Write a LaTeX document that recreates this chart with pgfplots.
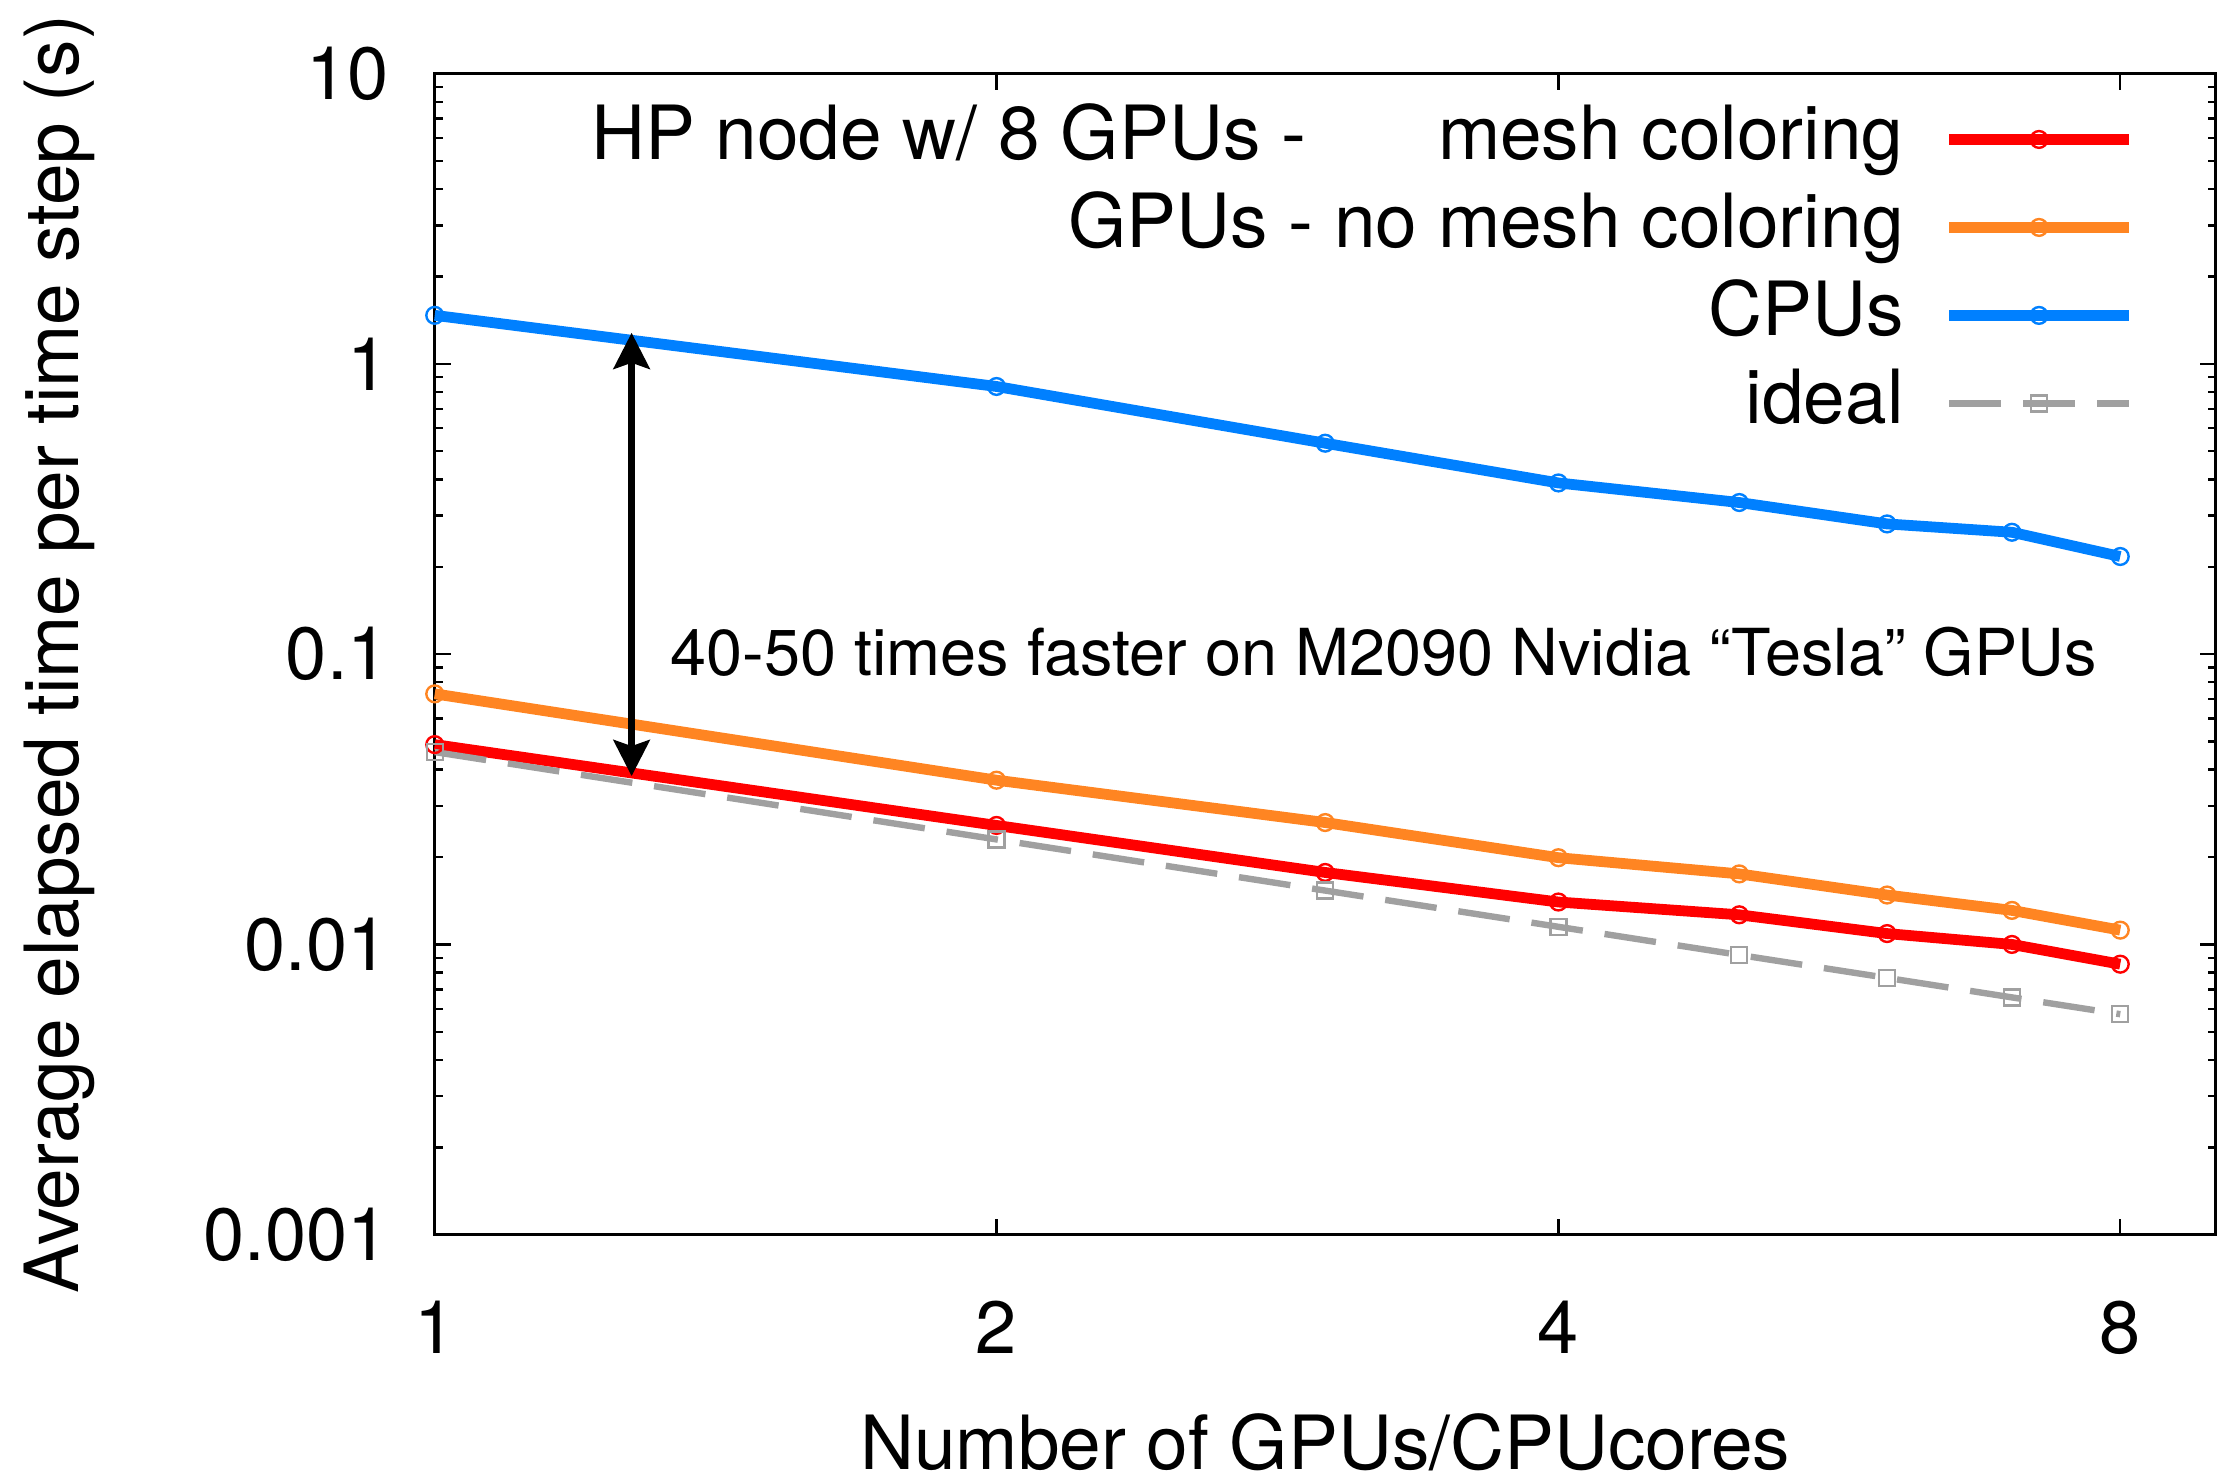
\documentclass[border=0pt]{standalone}
\usepackage{fontspec}
\setmainfont{TeX Gyre Heros}
\usepackage{pgfplots}
\usepackage{pgfplotstable}
\pgfplotsset{compat=1.18}
\usetikzlibrary{arrows.meta}

\definecolor{cred}{RGB}{255,0,0}
\definecolor{corange}{RGB}{255,133,34}
\definecolor{cblue}{RGB}{0,128,255}
\definecolor{cgray}{RGB}{160,160,160}

\pgfplotstableread{
x cpu nomc mc ideal
1 1.47 0.073 0.0488 0.046
2 0.836 0.0368 0.0257 0.023
3 0.533 0.0263 0.0177 0.01533
4 0.389 0.0199 0.0140 0.0115
5 0.333 0.0175 0.01265 0.0092
6 0.281 0.0148 0.0109 0.00767
7 0.263 0.0131 0.0100 0.00657
8 0.217 0.0112 0.00855 0.00575
}\datatable

\begin{document}
\begin{tikzpicture}
\begin{loglogaxis}[
  log basis x=2,
  scale only axis,
  width=445.3pt, height=290.3pt,
  xmin=1, xmax=9, ymin=0.001, ymax=10,
  xtick={1,2,4,8}, xticklabels={1,2,4,8},
  minor xtick={},
  ytick={0.001,0.01,0.1,1,10},
  yticklabels={0.001,0.01,0.1,1,10},
  tick align=inside,
  tick pos=both,
  major tick length=4pt,
  minor tick length=2pt,
  every tick/.style={black, line width=0.6pt},
  axis line style={line width=0.7pt},
  /pgf/number format/assume math mode=true,
  tick label style={font=\fontsize{18.5}{22}\selectfont, inner sep=0pt},
  xticklabel style={anchor=north, yshift=-16.3pt},
  yticklabel style={anchor=east, xshift=-11.3pt},
  label style={font=\fontsize{18.7}{22}\selectfont},
  xlabel={Number of GPUs/CPUcores},
  ylabel={Average elapsed time per time step (s)},
  xlabel style={at={(axis description cs:0.5,-0.2025)}, anchor=base, inner sep=0pt},
  ylabel style={at={(axis description cs:-0.2,0.5)}, anchor=base, inner sep=0pt},
  clip=false,
  legend cell align=right,
  legend plot pos=right,
  legend style={draw=none, fill=none, inner sep=0pt,
    at={(axis description cs:0.9548,0.975)}, anchor=north east,
    font=\fontsize{18.7}{22}\selectfont,
    column sep=10pt, row sep=4pt,
    nodes={inner sep=0pt, text height=14pt, text depth=4pt}},
  legend image code/.code={\draw[mark repeat=2,mark phase=2,#1] plot coordinates {(0pt,0pt) (22.5pt,0pt) (45pt,0pt)};},
]
\addplot[cred, line width=2.7pt, mark=o, mark size=2.1pt, mark options={solid, line width=0.6pt, fill=none}] table[x=x,y=mc] {\datatable};
\addlegendentry{HP node w/ 8 GPUs -\hspace{33pt}mesh coloring}
\addplot[corange, line width=2.7pt, mark=o, mark size=2.1pt, mark options={solid, line width=0.6pt, fill=none}] table[x=x,y=nomc] {\datatable};
\addlegendentry{GPUs - no mesh coloring}
\addplot[cblue, line width=2.7pt, mark=o, mark size=2.1pt, mark options={solid, line width=0.6pt, fill=none}] table[x=x,y=cpu] {\datatable};
\addlegendentry{CPUs}
\addplot[cgray, line width=1.6pt, dash pattern=on 13pt off 5.5pt, mark=square, mark size=2pt, mark options={solid, line width=0.6pt, fill=none}] table[x=x,y=ideal] {\datatable};
\addlegendentry{ideal}
\addplot[black, line width=1.8pt, {Stealth[length=9pt, width=9pt, inset=1.5pt]}-{Stealth[length=9pt, width=9pt, inset=1.5pt]}, forget plot] coordinates {(1.275,0.038) (1.275,1.28)};
\node[anchor=west, inner sep=0pt, font=\fontsize{16.2}{19}\selectfont] at (axis cs:1.337,0.102) {40-50 times faster on M2090 Nvidia “Tesla” GPUs};
\path (rel axis cs:-0.2441,-0.2146) rectangle (rel axis cs:1.0024,1.0634);
\end{loglogaxis}
\end{tikzpicture}
\end{document}
